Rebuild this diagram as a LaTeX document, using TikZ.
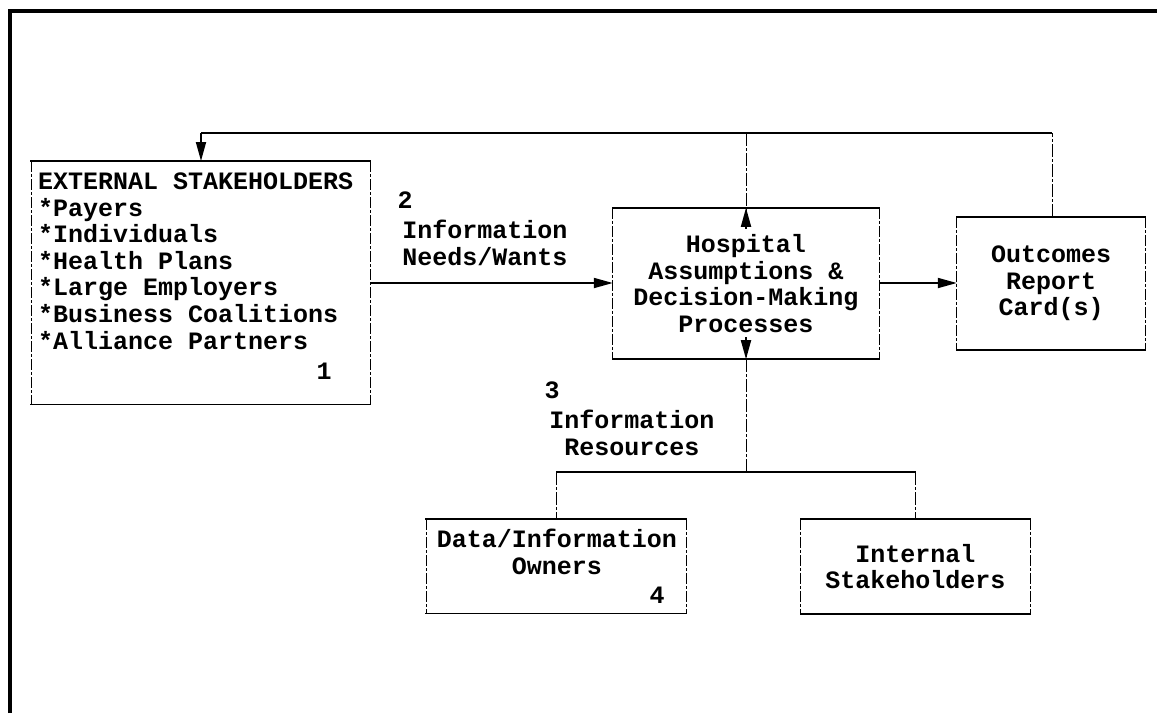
\documentclass[tikz,border=0pt]{standalone}
\usepackage{fontspec}
\setmainfont{Liberation Mono}
\usetikzlibrary{arrows.meta}
\tikzset{
  every node/.style={font=\bfseries\fontsize{25}{26.6}\selectfont, inner sep=0pt},
  slot/.style={minimum width=#1},
  hedge/.style={line width=1.7pt},
  vedge/.style={line width=1pt, dash pattern=on 11pt off 2pt on 3pt off 2pt},
  link/.style={line width=1.8pt},
  vlink/.style={line width=1pt, dash pattern=on 13pt off 2pt on 3pt off 2pt},
  tip/.style={-{Triangle[length=19pt,width=10pt]}},
  frame/.style={line width=4pt},
}
% solid top and bottom, light broken sides
\newcommand{\ruledbox}[1]{%
  \draw[hedge] ([xshift=-0.8pt]#1.north west) -- ([xshift=0.8pt]#1.north east);
  \draw[hedge] ([xshift=-0.8pt]#1.south west) -- ([xshift=0.8pt]#1.south east);
  \draw[vedge] (#1.north west) -- (#1.south west);
  \draw[vedge] (#1.north east) -- (#1.south east);
}
\begin{document}
\begin{tikzpicture}[x=1pt,y=-1pt]
\useasboundingbox (0,0) rectangle (1157,713);
% outer frame
\draw[frame] (10,713) -- (10,11) -- (1157,11);

% external stakeholders
\node[slot=339pt, minimum height=243pt, anchor=north west] (ext) at (31,161) {};
\node[anchor=west, align=left] (extlist) at (38,261)
  {EXTERNAL STAKEHOLDERS\\*Payers\\*Individuals\\*Health Plans\\*Large Employers\\*Business Coalitions\\*Alliance Partners};
\node (one) at (324,371) {1};

% hospital
\node[slot=266pt, minimum height=151pt, align=center] (hosp) at (746,283.5)
  {Hospital\\Assumptions \&\\Decision-Making\\Processes};

% report cards
\node[slot=188pt, minimum height=133pt, align=center] (out) at (1051,283.5)
  {Outcomes\\Report\\Card(s)};

% data owners
\node[slot=260pt, minimum height=94pt, anchor=north west] (data) at (426,519) {};
\node[align=center] (datatxt) at (557,552) {Data/Information\\Owners};
\node (four) at (657,595) {4};

% internal stakeholders
\node[slot=229pt, minimum height=95pt, align=center] (intl) at (915.5,566.5)
  {Internal\\Stakeholders};

\ruledbox{ext}
\ruledbox{hosp}
\ruledbox{out}
\ruledbox{data}
\ruledbox{intl}

% labels
\node (two) at (405,200) {2};
\node[align=center] (needs) at (485,243) {Information\\Needs/Wants};
\node (three) at (552,390) {3};
\node[align=center] (res) at (632,433) {Information\\Resources};

% connector junctions
\coordinate (fbL) at (201,133);
\coordinate (fbM) at (hosp.north |- fbL);
\coordinate (fbR) at (1052,133);
\coordinate (jc) at (hosp.south |- 0,472);
\coordinate (jl) at (556,472);
\coordinate (jr) at (intl.north |- jl);

% flows
\draw[link, tip] (ext.east |- 0,283) -- (hosp.west |- 0,283);
\draw[link, tip] (hosp.east |- 0,283) -- (out.west |- 0,283);

% feedback from the report cards
\draw[link] (fbL) -- (fbR);
\draw[vlink] (fbR |- out.north) -- (fbR);
\draw[link, tip] (fbL) -- (fbL |- ext.north);
\draw[vlink] (fbM) -- ([yshift=-20pt]hosp.north);
\draw[link, tip] ([yshift=-21pt]hosp.north) -- (hosp.north);

% information resources
\draw[link] (jl) -- (jr);
\draw[vlink] (jc) -- ([yshift=21pt]hosp.south);
\draw[link, tip] ([yshift=22pt]hosp.south) -- (hosp.south);
\draw[vlink] (jl) -- (jl |- data.north);
\draw[vlink] (jr) -- (intl.north);
\end{tikzpicture}
\end{document}
